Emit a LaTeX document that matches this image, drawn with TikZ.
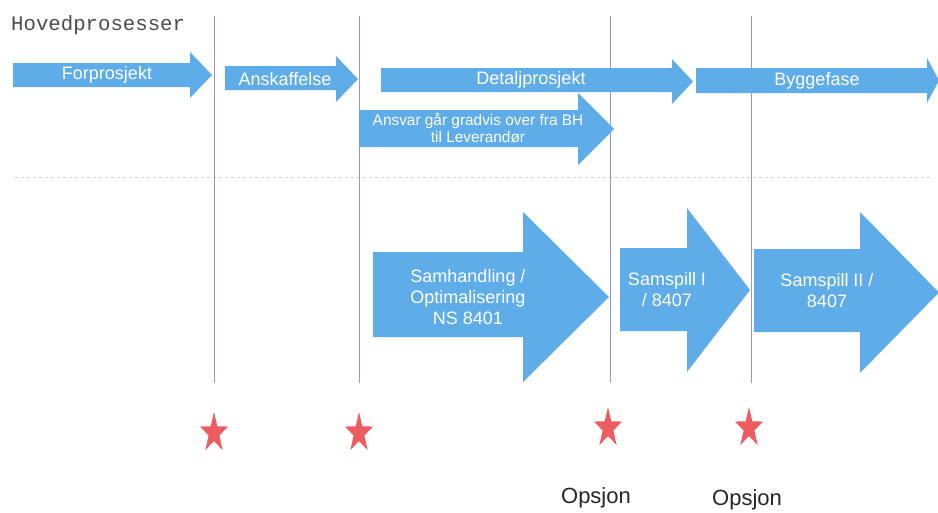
\documentclass[tikz,border=0pt]{standalone}
\usepackage{fontspec}
\setmainfont{Liberation Sans}
\newfontfamily\courierfont{Liberation Mono}
\definecolor{arrowblue}{RGB}{95,173,232}
\definecolor{starred}{RGB}{236,92,96}
\definecolor{vline}{RGB}{150,150,205}
\newcommand\blockarrow[7]{%
  \fill[arrowfill] (#1,#4) -- (#2,#4) -- (#2,#6) -- (#3,{(#6+#7)/2}) -- (#2,#7) -- (#2,#5) -- (#1,#5) -- cycle;}
\begin{document}
\begin{tikzpicture}[x=1pt,y=-1pt,
  arrowfill/.style={fill=arrowblue},
  lbl/.style={text=white,font=\fontsize{18}{21}\selectfont,align=center,inner sep=0pt},
  small/.style={text=white,font=\fontsize{15.4}{17}\selectfont,align=center,inner sep=0pt},
  phase/.style={draw=vline,line width=0.8pt},
  opt/.style={font=\fontsize{22}{24}\selectfont,text=black!85,anchor=base,inner sep=0pt},
  starpic/.pic={\fill[starred,xscale=0.7] (-90:21) \foreach \a in {1,...,9}{ -- ({-90+36*\a}:{ifthenelse(mod(\a,2)==0,21,8.1)})} -- cycle;}]
\useasboundingbox (0,0) rectangle (938,512);
\fill[white] (0,0) rectangle (938,512);
% dashed separator
\draw[black!18,dashed,line width=0.8pt] (15,177) -- (930,177);
% phase lines
\coordinate (l1t) at (214,16); \coordinate (l1b) at (214,383);
\coordinate (l2t) at (359,16); \coordinate (l2b) at (359,383);
\coordinate (l3t) at (610,16); \coordinate (l3b) at (610,383);
\coordinate (l4t) at (751,16); \coordinate (l4b) at (751,383);
\draw[phase] (l1t) -- (l1b);
\draw[phase] (l2t) -- (l2b);
\draw[phase] (l3t) -- (l3b);
\draw[phase] (l4t) -- (l4b);
% title
\node[anchor=west,inner sep=0pt,text=black!70,font=\courierfont\fontsize{20.7}{22}\selectfont] (title) at (11,25) {Hovedprosesser};
% top row arrows
\blockarrow{13}{190}{212}{63}{87}{52}{98}
\node[lbl] (forp) at (107,75) {Forprosjekt};
\blockarrow{225}{336}{358}{66}{90}{56}{102}
\node[lbl] (ansk) at (285,79) {Anskaffelse};
\blockarrow{381}{672}{693}{68}{92}{59}{104}
\node[lbl] (detp) at (531,80) {Detaljprosjekt};
\blockarrow{696}{927}{939}{68}{93}{58}{103}
\node[lbl] (bygg) at (817,81) {Byggefase};
\blockarrow{359}{578}{614}{110}{147}{93}{165}
\node[small] (ansvar) at (478,128) {Ansvar går gradvis over fra BH\\til Leverandør};
% big arrows
\blockarrow{373}{523}{609}{252}{337}{212}{382}
\node[lbl] (samh) at (468,297) {Samhandling /\\Optimalisering\\NS 8401};
\blockarrow{620}{687}{750}{248}{331}{208}{372}
\node[lbl] (sam1) at (667,290) {Samspill I\\/ 8407};
\blockarrow{754}{860}{939}{249}{332}{212}{373}
\node[lbl] (sam2) at (827,291) {Samspill II /\\8407};
% stars
\pic at (214,433) {starpic};
\pic at (359,433) {starpic};
\pic at (608,428) {starpic};
\pic at (749,428) {starpic};
% options
\node[opt] (ops1) at (596,503) {Opsjon};
\node[opt] (ops2) at (747,505) {Opsjon};
\end{tikzpicture}
\end{document}
